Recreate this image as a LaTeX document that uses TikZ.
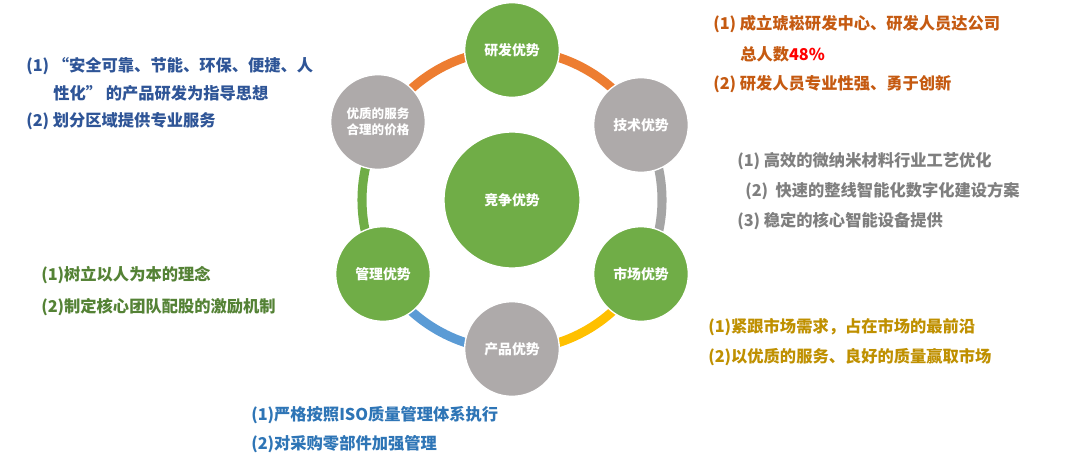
\documentclass[tikz,border=0pt]{standalone}
\usepackage{fontspec}
\setmainfont{Noto Sans CJK SC}
\definecolor{cgreen}{HTML}{70AD47}
\definecolor{cgray}{HTML}{AEAAAA}
\definecolor{rorange}{HTML}{ED7D31}
\definecolor{rgray}{HTML}{A5A5A5}
\definecolor{ryellow}{HTML}{FFC000}
\definecolor{rblue}{HTML}{5B9BD5}
\definecolor{tblueA}{HTML}{2F5597}
\definecolor{torange}{HTML}{C55A11}
\definecolor{tgray}{HTML}{7F7F7F}
\definecolor{tgreen}{HTML}{548235}
\definecolor{tgold}{HTML}{BF9000}
\definecolor{tblueB}{HTML}{2E75B6}
\definecolor{tred}{HTML}{FF0000}
\tikzset{
  bubble/.style={circle, draw=white, line width=1pt, text=white,
    minimum size=71pt, inner sep=0pt, align=center,
    font=\fontsize{10.4}{12.5}\selectfont\bfseries},
  ringseg/.style={line width=6.8pt},
  side/.style={anchor=west, inner sep=0pt, font=\fontsize{12.2}{14}\selectfont\bfseries}
}
\begin{document}
\begin{tikzpicture}[x=0.75pt,y=-0.75pt]
\useasboundingbox (0,0) rectangle (1080,467);
\fill[white] (0,0) rectangle (1080,467);
\coordinate (c) at (512,200);
% ring
\draw[ringseg, rorange] ([shift={(30:112.5pt)}]c) arc[start angle=30, end angle=150, radius=112.5pt];
\draw[ringseg, rgray] ([shift={(-30:112.5pt)}]c) arc[start angle=-30, end angle=30, radius=112.5pt];
\draw[ringseg, ryellow] ([shift={(-90:112.5pt)}]c) arc[start angle=-90, end angle=-30, radius=112.5pt];
\draw[ringseg, rblue] ([shift={(-150:112.5pt)}]c) arc[start angle=-150, end angle=-90, radius=112.5pt];
\draw[ringseg, cgreen] ([shift={(150:112.5pt)}]c) arc[start angle=150, end angle=210, radius=112.5pt];
% nodes
\node[bubble, fill=cgreen, minimum size=102pt] (core) at (c) {竞争优势};
\node[bubble, fill=cgreen] (yf) at (512,50) {研发优势};
\node[bubble, fill=cgray] (js) at (641,125) {技术优势};
\node[bubble, fill=cgreen] (sc) at (641,274) {市场优势};
\node[bubble, fill=cgray] (cp) at (512,349) {产品优势};
\node[bubble, fill=cgreen] (gl) at (383,274) {管理优势};
\node[bubble, fill=cgray, font=\fontsize{9.4}{12}\selectfont\bfseries] (fw) at (378,122) {优质的服务\\合理的价格};
% side texts
\node[side, text=tblueA] (a1) at (26,66) {(1) “安全可靠、节能、环保、便捷、人};
\node[side, text=tblueA] (a2) at (53,93) {性化” 的产品研发为指导思想};
\node[side, text=tblueA] (a3) at (26,121) {(2) 划分区域提供专业服务};
\node[side, text=torange] (b1) at (713,24) {(1) 成立琥崧研发中心、研发人员达公司};
\node[side, text=torange] (b2) at (740,54) {总人数\textcolor{tred}{48\%}};
\node[side, text=torange] (b3) at (713,84) {(2) 研发人员专业性强、勇于创新};
\node[side, text=tgray] (g1) at (737,161) {(1) 高效的微纳米材料行业工艺优化};
\node[side, text=tgray] (g2) at (745,191) {(2)\ \ 快速的整线智能化数字化建设方案};
\node[side, text=tgray] (g3) at (737,221) {(3) 稳定的核心智能设备提供};
\node[side, text=tgreen] (m1) at (41,275) {(1)树立以人为本的理念};
\node[side, text=tgreen] (m2) at (41,307) {(2)制定核心团队配股的激励机制};
\node[side, text=tgold] (s1) at (708,327) {(1)紧跟市场需求，占在市场的最前沿};
\node[side, text=tgold] (s2) at (708,357) {(2)以优质的服务、良好的质量赢取市场};
\node[side, text=tblueB] (p1) at (251,415) {(1)严格按照ISO质量管理体系执行};
\node[side, text=tblueB] (p2) at (251,444) {(2)对采购零部件加强管理};
\end{tikzpicture}
\end{document}
